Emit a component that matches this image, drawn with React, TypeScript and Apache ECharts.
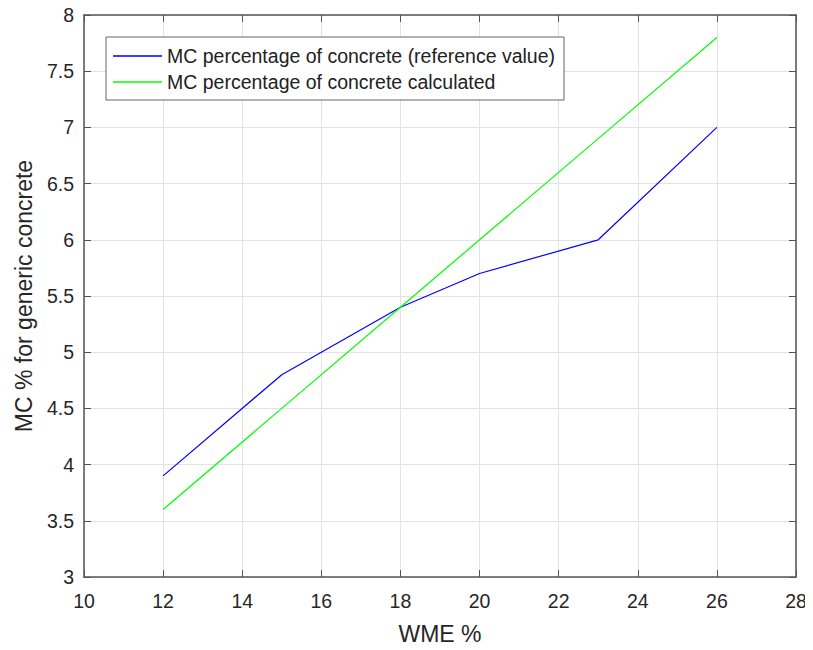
import React, { useEffect, useRef } from "react";
import * as echarts from "echarts";

const wmePercent = [12, 15, 18, 20, 23, 26];
const mcReference = [3.9, 4.8, 5.4, 5.7, 6.0, 7.0];
const mcCalculated = [3.6, 4.5, 5.4, 6.0, 6.9, 7.8];
const seriesNames = [
  "MC percentage of concrete (reference value)",
  "MC percentage of concrete calculated",
];
const xAxisTitle = "WME %";
const yAxisTitle = "MC % for generic concrete";

const FONT = "Liberation Sans, Arial, Helvetica, sans-serif";

export default function App() {
  const ref = useRef<HTMLDivElement>(null);
  useEffect(() => {
    if (!ref.current) return;
    const chart = echarts.init(ref.current, undefined, { renderer: "svg" });
    const axisCol = "#555";
    const gridCol = "#e3e3e3";
    const baseX = {
      type: "value" as const,
      min: 10,
      max: 28,
      interval: 2,
    };
    const baseY = {
      type: "value" as const,
      min: 3,
      max: 8,
      interval: 0.5,
    };
    chart.setOption({
      animation: false,
      backgroundColor: "#fff",
      textStyle: { fontFamily: FONT },
      grid: { left: 84, right: 17, top: 15, bottom: 73, containLabel: false },
      legend: {
        orient: "vertical",
        left: 106,
        top: 37,
        backgroundColor: "#fff",
        borderColor: "#666",
        borderWidth: 1,
        borderRadius: 0,
        padding: [9, 9, 8, 7],
        icon: "rect",
        itemWidth: 49,
        itemHeight: 1.5,
        itemGap: 6,
        textStyle: { fontSize: 19.5, color: "#222", fontFamily: FONT },
        data: seriesNames,
      },
      xAxis: [
        {
          ...baseX,
          position: "bottom",
          name: xAxisTitle,
          nameLocation: "middle",
          nameGap: 45,
          nameTextStyle: { fontSize: 23, color: "#262626", fontFamily: FONT },
          axisLine: { show: true, lineStyle: { color: axisCol, width: 1.5 } },
          axisTick: { show: true, inside: true, length: 7, lineStyle: { color: axisCol } },
          axisLabel: { fontSize: 19.5, color: "#262626", margin: 14, fontFamily: FONT },
          splitLine: { show: true, lineStyle: { color: gridCol, width: 1 } },
        },
        {
          ...baseX,
          position: "top",
          axisLine: { show: true, lineStyle: { color: axisCol, width: 1.5 } },
          axisTick: { show: true, inside: true, length: 7, lineStyle: { color: axisCol } },
          axisLabel: { show: false },
          splitLine: { show: false },
        },
      ],
      yAxis: [
        {
          ...baseY,
          position: "left",
          name: yAxisTitle,
          nameLocation: "middle",
          nameGap: 48,
          nameTextStyle: { fontSize: 23, color: "#262626", fontFamily: FONT },
          axisLine: { show: true, lineStyle: { color: axisCol, width: 1.5 } },
          axisTick: { show: true, inside: true, length: 7, lineStyle: { color: axisCol } },
          axisLabel: { fontSize: 19.5, color: "#262626", margin: 10, fontFamily: FONT },
          splitLine: { show: true, lineStyle: { color: gridCol, width: 1 } },
        },
        {
          ...baseY,
          position: "right",
          axisLine: { show: true, lineStyle: { color: axisCol, width: 1.5 } },
          axisTick: { show: true, inside: true, length: 7, lineStyle: { color: axisCol } },
          axisLabel: { show: false },
          splitLine: { show: false },
        },
      ],
      series: [
        {
          name: seriesNames[0],
          type: "line",
          symbol: "none",
          data: wmePercent.map((x, i) => [x, mcReference[i]]),
          lineStyle: { color: "#0000ff", width: 1.2 },
          itemStyle: { color: "#0000ff" },
        },
        {
          name: seriesNames[1],
          type: "line",
          symbol: "none",
          data: wmePercent.map((x, i) => [x, mcCalculated[i]]),
          lineStyle: { color: "#00ff00", width: 1.2 },
          itemStyle: { color: "#00ff00" },
        },
      ],
    });
    return () => chart.dispose();
  }, []);
  return <div ref={ref} style={{ width: 813, height: 650, margin: -8 }} />;
}
